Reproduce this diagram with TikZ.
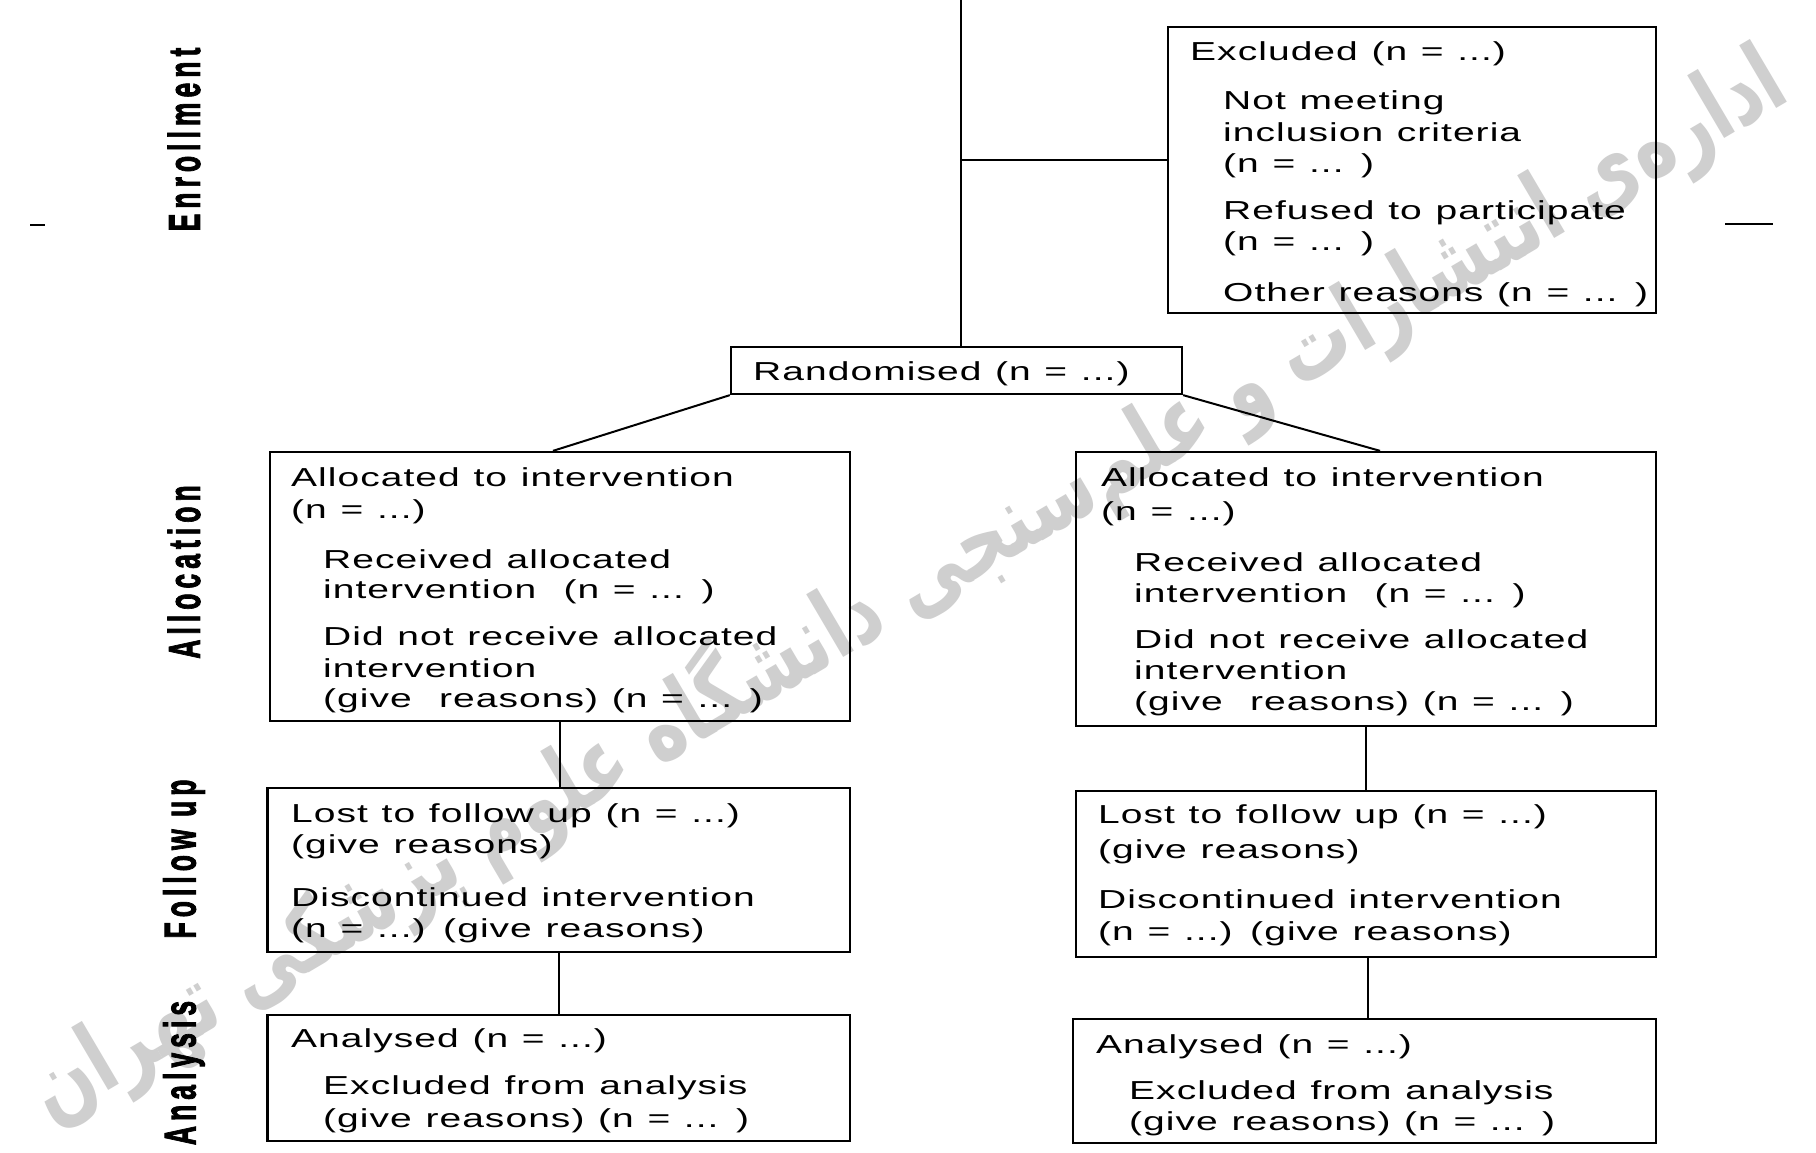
\documentclass[tikz,border=0pt]{standalone}
\usepackage{fontspec}
\usepackage{graphicx}
\setmainfont{Liberation Sans}
\newfontfamily\bodyfont[FakeStretch=1.5,LetterSpace=4,WordSpace=1.15]{Liberation Sans}
\newfontfamily\labfont[LetterSpace=19,FakeBold=2.5]{Liberation Sans}
\newfontfamily\wmfont[Script=Arabic]{DejaVu Sans}
\TeXXeTstate=1
\tikzset{
  box/.style={draw, line width=2.3pt, inner sep=0pt},
  txt/.style={anchor=base west, inner sep=0pt, font=\bodyfont\fontsize{26}{30}\selectfont},
  lab/.style={rotate=90, inner sep=0pt, font=\labfont\bfseries\fontsize{26.5}{30}\selectfont},
  conn/.style={line width=2pt},
  wm/.style={text=black!19, inner sep=0pt, font=\wmfont\bfseries\fontsize{71}{80}\selectfont},
}
\begin{document}
\begin{tikzpicture}[x=1pt,y=-1pt]
\useasboundingbox[fill=white] (0,0) rectangle (1816,1153);
% watermark
\node[wm, rotate=30.5] (wmark) at (906,584) {\scalebox{1}[1.35]{\beginR اداره‌ی انتشارات و علم‌سنجی دانشگاه علوم پزشکی تهران\endR}};
% boxes
\node[box, minimum width=488, minimum height=286] (excl) at (1412,170) {};
\node[box, minimum width=451, minimum height=47] (rand) at (956.5,370.5) {};
\node[box, minimum width=580, minimum height=269] (allocL) at (560,586.5) {};
\node[box, minimum width=580, minimum height=274] (allocR) at (1366,589) {};
\node[box, minimum width=582.5, minimum height=164] (fuL) at (558.75,870) {};
\node[box, minimum width=580, minimum height=166] (fuR) at (1366,874) {};
\node[box, minimum width=582.5, minimum height=126] (anL) at (558.75,1078) {};
\node[box, minimum width=583, minimum height=124] (anR) at (1364.5,1081) {};
% connectors
\coordinate (topend) at (961,0);
\coordinate (jn) at (961,160);
\draw[conn] (topend) -- (topend |- rand.north);
\draw[conn] (jn) -- (jn -| excl.west);
\draw[conn] (rand.south west) -- ([xshift=-7pt]allocL.north);
\draw[conn] (rand.south east) -- ([xshift=14pt]allocR.north);
\draw[conn] (allocL.south) -- (allocL.south |- fuL.north);
\draw[conn] (allocR.south) -- (allocR.south |- fuR.north);
\draw[conn] (fuL.south) -- (fuL.south |- anL.north);
\draw[conn] ([xshift=2pt]fuR.south) -- ([xshift=2pt]fuR.south |- anR.north);
% edge dashes
\draw[conn] (30,225) -- (45,225);
\draw[conn] (1725,224) -- (1773,224);
% side labels
\node[lab] (lenr) at (184,139.5) {\scalebox{1}[1.68]{Enrollment}};
\node[lab] (lall) at (184,572) {\scalebox{1}[1.68]{Allocation}};
\node[lab] (lfol) at (184,859) {\scalebox{1}[1.68]{Follow up}};
\node[lab] (lana) at (184,1073) {\scalebox{1}[1.68]{Analysis}};
% excluded texts
\node[txt] (e1) at (1190,61) {Excluded (n = ...)};
\node[txt] (e2) at (1223,110) {Not meeting};
\node[txt] (e3) at (1223,142) {inclusion criteria};
\node[txt] (e4) at (1223,173) {(n =  ... )};
\node[txt] (e5) at (1223,219) {Refused to participate};
\node[txt] (e6) at (1223,250) {(n =  ... )};
\node[txt] (e7) at (1223,301) {Other reasons (n = ... )};
% randomised
\node[txt] (r1) at (753,380) {Randomised (n = ...)};
% allocation left
\node[txt] (al1) at (291,486) {Allocated to intervention};
\node[txt] (al2) at (291,518) {(n = ...)};
\node[txt] (al3) at (323,568) {Received allocated};
\node[txt] (al4) at (323,598) {intervention \ (n = ... )};
\node[txt] (al5) at (323,645) {Did not receive allocated};
\node[txt] (al6) at (323,677) {intervention};
\node[txt] (al7) at (323,707) {(give \ reasons) (n = ... )};
% allocation right
\node[txt] (ar1) at (1101,486) {Allocated to intervention};
\node[txt] (ar2) at (1101,520) {(n = ...)};
\node[txt] (ar3) at (1134,571) {Received allocated};
\node[txt] (ar4) at (1134,602) {intervention \ (n = ... )};
\node[txt] (ar5) at (1134,648) {Did not receive allocated};
\node[txt] (ar6) at (1134,679) {intervention};
\node[txt] (ar7) at (1134,710) {(give \ reasons) (n = ... )};
% follow up left
\node[txt] (fl1) at (291,822) {Lost to follow up (n = ...)};
\node[txt] (fl2) at (291,853) {(give reasons)};
\node[txt] (fl3) at (291,906) {Discontinued intervention};
\node[txt] (fl4) at (291,937) {(n = ...) (give reasons)};
% follow up right
\node[txt] (fr1) at (1098,823) {Lost to follow up (n = ...)};
\node[txt] (fr2) at (1098,858) {(give reasons)};
\node[txt] (fr3) at (1098,908) {Discontinued intervention};
\node[txt] (fr4) at (1098,940) {(n = ...) (give reasons)};
% analysis left
\node[txt] (nl1) at (291,1047) {Analysed (n = ...)};
\node[txt] (nl2) at (323,1094) {Excluded from analysis};
\node[txt] (nl3) at (323,1127) {(give reasons) (n = ... )};
% analysis right
\node[txt] (nr1) at (1096,1053) {Analysed (n = ...)};
\node[txt] (nr2) at (1129,1099) {Excluded from analysis};
\node[txt] (nr3) at (1129,1130) {(give reasons) (n = ... )};
\end{tikzpicture}
\end{document}
